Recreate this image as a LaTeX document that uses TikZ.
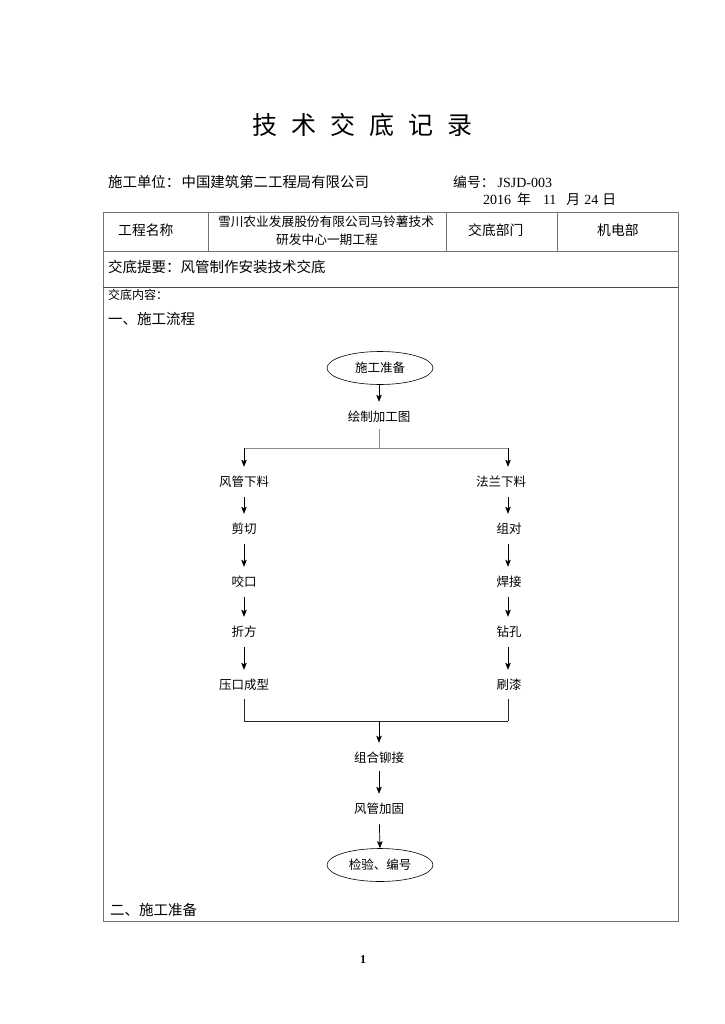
\documentclass[tikz,border=0pt]{standalone}
\usepackage{fontspec}
\setmainfont{Noto Sans CJK SC}
\newfontfamily\lat{Liberation Serif}
\usetikzlibrary{arrows.meta,shapes.geometric}
\begin{document}
\begin{tikzpicture}[x=1pt,y=-1pt,
  cjk/.style={inner sep=0pt,text height=0.88em,text depth=0.12em},
  hdr/.style={cjk,anchor=west,font=\fontsize{13.8}{14}\selectfont},
  big/.style={cjk,anchor=west,font=\fontsize{14.5}{15}\selectfont},
  flow/.style={cjk,font=\fontsize{12.5}{13}\selectfont},
  term/.style={ellipse,draw,line width=0.6pt,minimum width=106pt,minimum height=33pt,inner sep=0pt,font=\fontsize{12.5}{13}\selectfont},
  tbl/.style={draw=black!55,line width=0.9pt},
  arr/.style={-{Stealth[length=7pt,width=5.5pt,inset=1.5pt]},line width=0.7pt,shorten <=8.5pt,shorten >=11pt},
  joinline/.style={line width=0.8pt,draw=black!85},
  splitline/.style={line width=0.6pt,draw=black!45}]
\useasboundingbox (0,0) rectangle (724,1024);
\fill[white] (0,0) rectangle (724,1024);

% title and header
\node[cjk,font=\fontsize{25}{25}\selectfont] (title) at (362,131)
  {技\hskip14pt术\hskip14pt交\hskip14pt底\hskip14pt记\hskip14pt录};
\node[hdr,font=\fontsize{14.4}{14}\selectfont] (unit) at (108,184) {施工单位：\hskip1.5pt 中国建筑第二工程局有限公司};
\node[hdr] (code) at (453,184) {编号：\hskip3pt{\lat\fontsize{14}{14}\selectfont JSJD-003}};
\node[hdr] (date) at (483,201) {{\lat\fontsize{14}{14}\selectfont 2016}\hskip6pt 年\hskip12pt{\lat\fontsize{14}{14}\selectfont 11}\hskip10pt 月\hskip4pt{\lat\fontsize{14}{14}\selectfont 24}\hskip4pt 日};

% table
\draw[tbl] (103,212) rectangle (678,921);
\draw[tbl] (103,251) -- (678,251);
\draw[tbl,draw=black!70] (103,287) -- (678,287);
\draw[tbl] (208,212) -- (208,251);
\draw[tbl] (446,212) -- (446,251);
\draw[tbl] (557,212) -- (557,251);

\node[hdr] (gcmc) at (118,232) {工程名称};
\node[cjk,font=\fontsize{12.7}{13}\selectfont] (proj1) at (326,223) {雪川农业发展股份有限公司马铃薯技术};
\node[cjk,font=\fontsize{12.7}{13}\selectfont] (proj2) at (327,241) {研发中心一期工程};
\node[hdr] (jdbm) at (468,232) {交底部门};
\node[hdr] (jdb) at (597,232) {机电部};
\node[big] (tiyao) at (108,269) {交底提要：风管制作安装技术交底};
\node[cjk,anchor=west,font=\fontsize{12}{12}\selectfont] (neirong) at (108,296) {交底内容：};
\node[big] (sec1) at (108,321) {一、施工流程};
\node[big] (sec2) at (110,912) {二、施工准备};
\node[inner sep=0pt,font=\lat\bfseries\fontsize{12}{12}\selectfont] (page) at (363,960) {1};

% flow chart
\node[term] (start) at (380,368) {施工准备};
\node[flow] (plan) at (379,418) {绘制加工图};
\coordinate (split) at (379,448);
\coordinate (sl) at (244,448);
\coordinate (sr) at (508,448);

\node[flow] (fg) at (244,483) {风管下料};
\node[flow] (jq) at (244,530) {剪切};
\node[flow] (yk) at (244,583) {咬口};
\node[flow] (zf) at (244,633) {折方};
\node[flow] (yc) at (244,686) {压口成型};

\node[flow] (fl) at (501,483) {法兰下料};
\node[flow] (zd) at (509,530) {组对};
\node[flow] (hj) at (509,583) {焊接};
\node[flow] (zk) at (509,633) {钻孔};
\node[flow] (sq) at (509,686) {刷漆};

\coordinate (jl) at (244,721);
\coordinate (jr) at (508,721);
\coordinate (jm) at (379,721);

\node[flow] (zh) at (379,759) {组合铆接};
\node[flow] (jg) at (379,810) {风管加固};
\node[term] (fin) at (380,865) {检验、编号};

\draw[arr,shorten <=0pt] (start.south -| plan) -- (plan);
\draw[splitline,shorten <=6pt] (plan.south) -- (split);
\draw[splitline] (sl) -- (sr);
\draw[arr,shorten <=0pt] (sl) -- (fg.north);
\draw[arr,shorten <=0pt] (sr) -- (sr |- fl.north);

\draw[arr] (fg) -- (jq);
\draw[arr] (jq) -- (yk);
\draw[arr] (yk) -- (zf);
\draw[arr] (zf) -- (yc);

\draw[arr] (sr |- fl.south) -- (sr |- zd.north);
\draw[arr] (sr |- zd.south) -- (sr |- hj.north);
\draw[arr] (sr |- hj.south) -- (sr |- zk.north);
\draw[arr] (sr |- zk.south) -- (sr |- sq.north);

\draw[joinline,shorten <=8pt] (yc.south) -- (jl) -- (jr);
\draw[joinline,shorten <=8pt] (sr |- sq.south) -- (jr);
\draw[arr,shorten <=0pt] (jm) -- (zh);
\draw[arr,shorten <=6.5pt] (zh) -- (jg);
\draw[arr,shorten >=0pt,shorten <=9pt] (jg) -- (fin.north);
\end{tikzpicture}
\end{document}
